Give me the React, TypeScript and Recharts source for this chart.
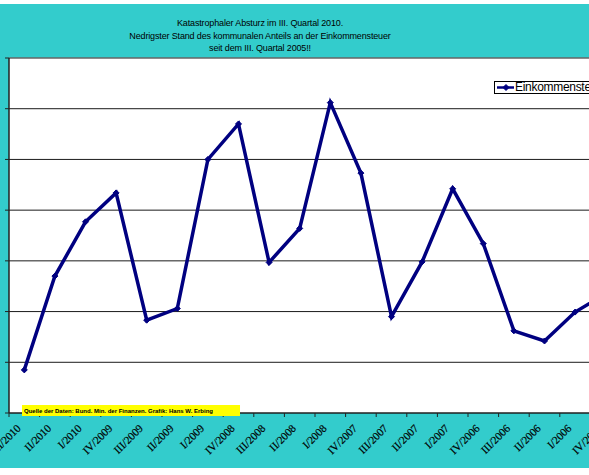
import React from "react";
import {
  LineChart,
  Line,
  XAxis,
  YAxis,
  CartesianGrid,
  ReferenceLine,
  Legend,
} from "recharts";

// quarters, newest first (as in the original)
const quarters = [
  "III/2010", "II/2010", "I/2010", "IV/2009", "III/2009", "II/2009", "I/2009",
  "IV/2008", "III/2008", "II/2008", "I/2008", "IV/2007", "III/2007", "II/2007",
  "I/2007", "IV/2006", "III/2006", "II/2006", "I/2006", "IV/2005",
];
const einkommensteuer = [
  0.85, 2.7, 3.77, 4.34, 1.83, 2.06, 5.0, 5.7, 2.97, 3.64,
  6.12, 4.73, 1.9, 2.98, 4.42, 3.34, 1.62, 1.42, 1.99, 2.35,
];
const yTicks = [0, 1, 2, 3, 4, 5, 6, 7];
const titleLines = [
  "Katastrophaler Absturz im III. Quartal 2010.",
  "Nedrigster Stand des kommunalen Anteils an der Einkommensteuer",
  "seit dem III. Quartal 2005!!",
];
const sourceText = "Quelle der Daten: Bund. Min. der Finanzen. Grafik: Hans W. Erbing";

const data = quarters.map((q, i) => ({ q, v: einkommensteuer[i] }));

const W = 640;
const H = 475;
// axis boxes need at least 1px, so the margins lose one pixel each
const M = { top: 58, right: 19, bottom: 61, left: 8 };
const HALF = (W - M.left - 1 - M.right) / quarters.length / 2;
const NAVY = "#000080";

const Diamond = ({ cx, cy, r = 5 }: any) =>
  cx == null ? null : (
    <polygon
      points={`${cx},${cy - r} ${cx + r},${cy} ${cx},${cy + r} ${cx - r},${cy}`}
      fill={NAVY}
      stroke={NAVY}
    />
  );

const XTick = ({ x, y, payload }: any) => (
  <g>
    <line x1={x - HALF} y1={y} x2={x - HALF} y2={y + 4} stroke="#222" />
    <text
      x={x - 3}
      y={y + 16}
      transform={`rotate(-45 ${x - 3} ${y + 16})`}
      textAnchor="end"
      fontFamily="'Liberation Serif', serif"
      fontSize={11}
      fill="#000"
      stroke="#000"
      strokeWidth={0.2}
    >
      {payload.value}
    </text>
  </g>
);

const renderLegend = ({ payload }: any) => (
  <div
    style={{
      border: "1px solid #000",
      background: "#fff",
      height: 11,
      width: 122,
      display: "flex",
      alignItems: "center",
      fontFamily: "'Liberation Sans', sans-serif",
      fontSize: 12,
      lineHeight: "11px",
      whiteSpace: "nowrap",
    }}
  >
    {(payload || []).map((p: any) => (
      <React.Fragment key={p.value}>
        <svg width={19} height={11}>
          <line x1={2} y1={5.5} x2={19} y2={5.5} stroke={NAVY} strokeWidth={2.5} />
          <Diamond cx={11} cy={5.5} r={3} />
        </svg>
        <span style={{ marginLeft: 1, letterSpacing: -0.3 }}>{p.value}</span>
      </React.Fragment>
    ))}
  </div>
);

export default function App() {
  return (
    <div
      style={{
        position: "absolute",
        left: 0,
        top: 0,
        width: 589,
        height: 475,
        overflow: "hidden",
        background: "#fff",
      }}
    >
      <div
        style={{
          position: "absolute",
          left: 0,
          top: 4,
          width: 589,
          height: 464,
          background: "#33CCCC",
        }}
      />
      <div style={{ position: "absolute", left: 0, top: 0 }}>
        <LineChart width={W} height={H} data={data} margin={M}>
          <CartesianGrid vertical={false} stroke="#1a1a1a" fill="#fff" />
          <ReferenceLine y={7} stroke="#8c8c8c" />
          <XAxis
            dataKey="q"
            height={1}
            padding={{ left: HALF, right: HALF }}
            interval={0}
            tickSize={0}
            tickMargin={0}
            tickLine={false}
            tick={<XTick />}
            axisLine={{ stroke: "#222" }}
          />
          <YAxis
            width={1}
            domain={[0, 7]}
            ticks={yTicks}
            tickSize={4}
            tick={() => <g />}
            tickLine={{ stroke: "#222" }}
            axisLine={{ stroke: "#222", strokeWidth: 1.5 }}
          />
          <Legend
            layout="vertical"
            align="center"
            verticalAlign="middle"
            wrapperStyle={{ left: 494, top: 81, width: 124, height: 13 }}
            content={renderLegend}
          />
          <Line
            dataKey="v"
            name="Einkommensteuer"
            stroke={NAVY}
            strokeWidth={3.5}
            dot={<Diamond />}
            activeDot={false}
            isAnimationActive={false}
          />
        </LineChart>
      </div>
      <svg
        width={589}
        height={475}
        style={{ position: "absolute", left: 0, top: 0, pointerEvents: "none" }}
      >
        {titleLines.map((t, i) => (
          <text
            key={i}
            x={260}
            y={26 + i * 12.6}
            textAnchor="middle"
            fontFamily="'Liberation Sans', sans-serif"
            fontSize={9}
            letterSpacing={-0.15}
            fill="#000"
          >
            {t}
          </text>
        ))}
        <rect x={22} y={405} width={218} height={11} fill="#ffff00" />
        <text
          x={24}
          y={413}
          fontFamily="'Liberation Sans', sans-serif"
          fontSize={6}
          fontWeight="bold"
          fill="#000"
        >
          {sourceText}
        </text>
      </svg>
    </div>
  );
}
